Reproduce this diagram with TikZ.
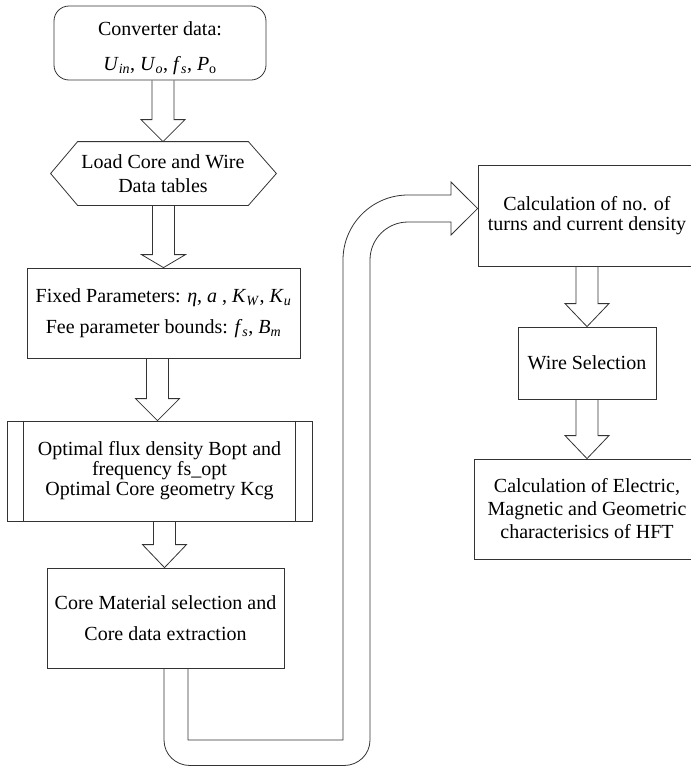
\documentclass[tikz,border=0pt]{standalone}
\usepackage{fontspec}
\setmainfont{Liberation Serif}
\usetikzlibrary{calc}
\newcommand\vi[1]{\textit{#1}}
\newcommand\sbi[1]{\textsubscript{\textit{#1}}}
\definecolor{lc}{gray}{0.2}
\newcommand\barrow[4]{%
  \draw[blk] ($(#2.north |- #1.south)+(#3-11,0)$) -- ($(#2.north)+(#3-11,-#4)$) -- ($(#2.north)+(#3-22,-#4)$) -- ($(#2.north)+(#3,0)$) -- ($(#2.north)+(#3+22,-#4)$) -- ($(#2.north)+(#3+11,-#4)$) -- ($(#2.north |- #1.south)+(#3+11,0)$);}
\begin{document}
\begin{tikzpicture}[x=1pt,y=-1pt,
  box/.style={draw=lc, line width=0.8pt, inner sep=0pt, align=center},
  blk/.style={draw=lc, line width=0.8pt, line join=miter}]
\useasboundingbox (0,0) rectangle (691,766);
\clip (0,0) rectangle (691,766);
% left column
\node[box, rounded corners=15pt, minimum width=212pt, minimum height=74pt,
  font=\fontsize{20pt}{35pt}\selectfont] (conv) at (160,43)
  {\rule{0pt}{25pt}Converter data:\\ \vi{U}\sbi{in}, \vi{U}\sbi{o}, \vi{f}\sbi{s}, \vi{P}\textsubscript{o}};
\node[box, draw=none, minimum width=170pt, minimum height=63pt,
  font=\fontsize{20pt}{24pt}\selectfont] (load) at (163,173.5)
  {Load Core and Wire\\Data tables};
\draw[blk] (load.north west) -- (load.north east) -- ($(load.east)+(28,0)$) -- (load.south east) -- (load.south west) -- ($(load.west)+(-27,0)$) -- cycle;
\node[box, minimum width=273pt, minimum height=90pt,
  font=\fontsize{20pt}{31pt}\selectfont] (fixed) at (163.5,313)
  {Fixed Parameters: \vi{η}, \vi{a} , \vi{K}\sbi{W}, \vi{K}\sbi{u}\\
   Fee parameter bounds: \vi{f}\sbi{s}, \vi{B}\sbi{m}};
\node[box, minimum width=305pt, minimum height=100pt,
  font=\fontsize{20pt}{20pt}\selectfont] (optim) at (159.5,471)
  {Optimal flux density Bopt and\\frequency fs\_opt\\Optimal Core geometry Kcg};
\draw[blk] ($(optim.north west)+(17,0)$) -- ($(optim.south west)+(17,0)$);
\draw[blk] ($(optim.north east)+(-17,0)$) -- ($(optim.south east)+(-17,0)$);
\node[box, minimum width=237pt, minimum height=100pt,
  font=\fontsize{20pt}{31pt}\selectfont] (core) at (165.5,618)
  {Core Material selection and\\Core data extraction};
% right column
\node[box, minimum width=218pt, minimum height=101pt,
  font=\fontsize{20pt}{20pt}\selectfont] (calc) at (587,215.5)
  {Calculation of no. of\\turns and current density};
\node[box, minimum width=138pt, minimum height=72pt,
  font=\fontsize{20pt}{24pt}\selectfont] (wire) at (587,363)
  {Wire Selection};
\node[box, minimum width=226pt, minimum height=100pt,
  font=\fontsize{20pt}{23pt}\selectfont] (elec) at (587,509)
  {Calculation of Electric,\\Magnetic and Geometric\\characterisics of HFT};
% block arrows
\barrow{conv}{load}{0}{22}
\barrow{load}{fixed}{0}{13}
\barrow{fixed}{optim}{-2}{22}
\barrow{optim}{core}{-1}{23}
\barrow{calc}{wire}{0}{23}
\barrow{wire}{elec}{0}{23}
% U-shaped block arrow
\draw[blk] ($(core.south)+(22.5,0)$) -- (188,740) -- (343,740) -- (343,260)
  .. controls (343,224.1) and (372.1,195) .. (408,195) -- (451,195) -- (451,182)
  -- ($(calc.west)+(0,-7)$) -- (451,235) -- (451,222) -- (408,222)
  .. controls (387,222) and (370,239) .. (370,260) -- (370,740)
  .. controls (370,754.4) and (358.4,765.5) .. (344,765.5) -- (190,765.5)
  .. controls (175.6,765.5) and (164,754.4) .. (164,740) -- ($(core.south)+(-1.5,0)$);
\end{tikzpicture}
\end{document}
